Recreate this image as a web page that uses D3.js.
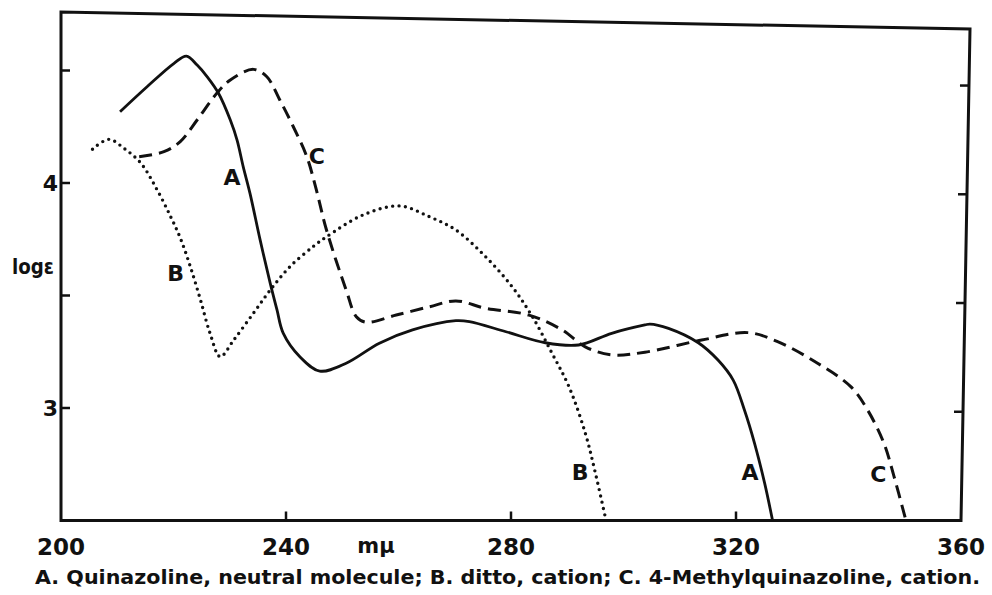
<!DOCTYPE html>
<html>
<head>
<meta charset="utf-8">
<script src="https://cdn.jsdelivr.net/npm/d3@7"></script>
<style>
  html, body { margin: 0; padding: 0; background: #fff; }
  svg { display: block; }
  text { font-family: "DejaVu Sans", sans-serif; font-weight: bold; fill: #111; }
</style>
</head>
<body>
<svg id="chart" width="992" height="595"></svg>
<script>
// ---- data (wavelength in mμ, log ε) ----
const wavelengthsA = [210.5, 215.3, 220.1, 222.3, 224.2, 226.0, 228.0, 230.1, 231.3, 232.4, 233.6, 235.4, 237.2, 238.4, 239.5, 242.5, 246.0, 250.7, 256.6, 262.5, 270.2, 272.6, 279.1, 286.1, 292.0, 297.9, 303.8, 304.7, 308.0, 313.3, 316.8, 319.5, 321.5, 323.3, 325.1, 326.5];
const logEpsA      = [4.317, 4.428, 4.532, 4.564, 4.524, 4.472, 4.399, 4.28, 4.191, 4.072, 3.954, 3.747, 3.554, 3.436, 3.333, 3.227, 3.164, 3.199, 3.288, 3.347, 3.388, 3.384, 3.339, 3.29, 3.28, 3.332, 3.369, 3.373, 3.354, 3.29, 3.213, 3.124, 2.991, 2.843, 2.665, 2.5];

const wavelengthsB = [205.6, 208.5, 211.2, 214.2, 217.1, 219.5, 221.2, 223.0, 224.8, 226.5, 228.3, 230.7, 234.2, 237.2, 240.7, 244.8, 247.2, 253.7, 260.2, 265.5, 270.2, 275.5, 280.2, 283.8, 287.3, 290.3, 293.2, 295.0, 296.8];
const logEpsB      = [4.15, 4.194, 4.154, 4.088, 3.969, 3.85, 3.756, 3.628, 3.48, 3.332, 3.228, 3.302, 3.421, 3.524, 3.628, 3.717, 3.761, 3.858, 3.898, 3.85, 3.791, 3.672, 3.539, 3.406, 3.243, 3.095, 2.889, 2.711, 2.511];

const wavelengthsC = [213.9, 218.3, 221.2, 224.2, 227.7, 230.1, 234.2, 236.6, 238.9, 241.3, 243.7, 245.4, 247.2, 250.7, 252.5, 254.3, 259.6, 265.5, 270.2, 275.5, 283.2, 289.1, 293.2, 297.9, 303.8, 313.9, 322.1, 327.4, 334.5, 340.4, 343.4, 346.3, 348.1, 350.1];
const logEpsC      = [4.117, 4.139, 4.184, 4.28, 4.399, 4.458, 4.505, 4.472, 4.369, 4.25, 4.117, 3.969, 3.791, 3.524, 3.406, 3.381, 3.413, 3.45, 3.476, 3.443, 3.413, 3.347, 3.272, 3.236, 3.248, 3.302, 3.335, 3.295, 3.199, 3.095, 2.991, 2.843, 2.695, 2.51];

const xTickValues = [200, 240, 280, 320, 360];
const xTickLabels = ["200", "240", "280", "320", "360"];
const yTickValues = [3, 3.5, 4, 4.5];
const yTickLabels = ["3", "", "4", ""];
const seriesNames = ["A", "B", "C"];
const labelWavelengths = [230.4, 220.4, 245.5, 322.5, 292.3, 345.3];
const labelLogEps      = [4.028, 3.60, 4.12, 2.714, 2.717, 2.705];
const labelTexts       = ["A", "B", "C", "A", "B", "C"];
const xAxisTitle = "mμ";
const yAxisTitle = "logε";
const caption = "A. Quinazoline, neutral molecule; B. ditto, cation;  C. 4-Methylquinazoline, cation.";

// ---- layout ----
const svg = d3.select("#chart");
const x = d3.scaleLinear().domain([200, 360]).range([61, 961]);
const y = d3.scaleLinear().domain([3, 4]).range([408, 183]);
const yBottom = 2.5, yTop = 4.76;

// frame (paper is slightly skewed at top/right)
const skewTop = 17, skewRightTop = 9;
const rightAt = v => {
  const t = (y(yBottom) - y(v)) / (y(yBottom) - y(yTop));
  return { px: x(360) + skewRightTop * t, py: y(v) + skewTop * t };
};
const frame = d3.path();
frame.moveTo(x(200), y(yBottom));
frame.lineTo(x(200), y(yTop));
const tr = rightAt(yTop);
frame.lineTo(tr.px, tr.py);
frame.lineTo(x(360), y(yBottom));
frame.closePath();
svg.append("path").attr("d", frame.toString())
  .attr("fill", "none").attr("stroke", "#111").attr("stroke-width", 3).attr("stroke-linejoin", "miter");

// ticks - left & right
yTickValues.forEach((v, i) => {
  svg.append("line").attr("x1", x(200)).attr("x2", x(200) + 9).attr("y1", y(v)).attr("y2", y(v))
    .attr("stroke", "#111").attr("stroke-width", 2.5);
  const r = rightAt(v);
  svg.append("line").attr("x1", r.px).attr("x2", r.px - 9).attr("y1", r.py).attr("y2", r.py)
    .attr("stroke", "#111").attr("stroke-width", 2.5);
  if (yTickLabels[i]) {
    svg.append("text").attr("x", x(200) - 3).attr("y", y(v)).attr("dy", "0.36em")
      .attr("text-anchor", "end").attr("font-size", 22).text(yTickLabels[i]);
  }
});
// ticks - bottom
xTickValues.forEach((v, i) => {
  if (v !== 200 && v !== 360) {
    svg.append("line").attr("x1", x(v)).attr("x2", x(v)).attr("y1", y(yBottom)).attr("y2", y(yBottom) - 9)
      .attr("stroke", "#111").attr("stroke-width", 2.5);
  }
  svg.append("text").attr("x", x(v)).attr("y", 555).attr("text-anchor", "middle")
    .attr("font-size", 23).text(xTickLabels[i]);
});

svg.append("text").attr("x", 376).attr("y", 553).attr("text-anchor", "middle")
  .attr("font-size", 21).text(xAxisTitle);
svg.append("text").attr("x", 12).attr("y", 274).attr("text-anchor", "start")
  .attr("font-size", 22).attr("textLength", 42).attr("lengthAdjust", "spacingAndGlyphs").text(yAxisTitle);

// ---- curves ----
const line = d3.line().x(d => x(d[0])).y(d => y(d[1])).curve(d3.curveCatmullRom.alpha(0.5));
const series = [
  { name: seriesNames[0], data: d3.zip(wavelengthsA, logEpsA), dash: null, width: 2.8, cap: "butt" },
  { name: seriesNames[1], data: d3.zip(wavelengthsB, logEpsB), dash: "0 6.4", width: 3.4, cap: "round" },
  { name: seriesNames[2], data: d3.zip(wavelengthsC, logEpsC), dash: "13 7", width: 3, cap: "butt" }
];
svg.append("g").selectAll("path").data(series).join("path")
  .attr("d", s => line(s.data))
  .attr("fill", "none").attr("stroke", "#111")
  .attr("stroke-width", s => s.width)
  .attr("stroke-dasharray", s => s.dash)
  .attr("stroke-linecap", s => s.cap)
  .attr("stroke-linejoin", "round");

// curve labels
svg.append("g").selectAll("text").data(d3.range(labelTexts.length)).join("text")
  .attr("x", i => x(labelWavelengths[i])).attr("y", i => y(labelLogEps[i]))
  .attr("dy", "0.36em").attr("text-anchor", "middle").attr("font-size", 22)
  .text(i => labelTexts[i]);

// caption
svg.append("text").attr("x", 35).attr("y", 584).attr("font-size", 20)
  .attr("textLength", 945).attr("lengthAdjust", "spacingAndGlyphs").text(caption);
</script>
</body>
</html>
